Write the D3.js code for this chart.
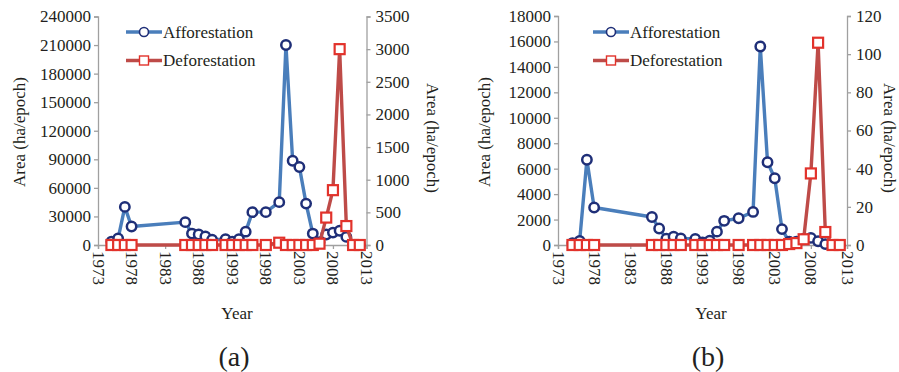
<!DOCTYPE html>
<html>
<head>
<meta charset="utf-8">
<script src="https://cdn.jsdelivr.net/npm/d3@7"></script>
<style>
  body { margin: 0; background: #fff; }
  svg, svg text { font-family: "Liberation Serif", "Times New Roman", Times, "DejaVu Serif", serif; }
</style>
</head>
<body>
<div id="chart"></div>
<script>
// 観測年（両パネル共通）
const years = [1975, 1976, 1977, 1978, 1986, 1987, 1988, 1989, 1990, 1992, 1993, 1994, 1995, 1996,
  1998, 2000, 2001, 2002, 2003, 2004, 2005, 2006, 2007, 2008, 2009, 2010, 2011, 2012];

// (a) 植林・伐採面積 (ha/epoch)
const afforestA = [3500, 7000, 40000, 19500, 24000, 12000, 11000, 9000, 5500, 6000, 3500, 6000, 14000, 34500,
  34500, 45000, 210000, 88500, 82000, 43500, 12000, 3000, 11000, 13000, 15000, 8500, 0, 0];
const deforestA = [0, 0, 0, 0, 0, 0, 0, 0, 0, 0, 0, 0, 0, 0,
  0, 35, 0, 0, 0, 0, 0, 20, 420, 840, 3000, 290, 0, 0];

// (b)
const afforestB = [150, 320, 6700, 2950, 2200, 1300, 500, 650, 520, 480, 200, 340, 1050, 1900,
  2100, 2600, 15600, 6500, 5250, 1250, 250, 250, 470, 560, 300, 70, 0, 0];
const deforestB = [0, 0, 0, 0, 0, 0, 0, 0, 0, 0, 0, 0, 0, 0,
  0, 0, 0, 0, 0, 0, 0.5, 1, 3, 37.5, 106, 6.8, 0, 0];

// 目盛り
const xTicks = [1973, 1978, 1983, 1988, 1993, 1998, 2003, 2008, 2013];
const leftTicksA = [0, 30000, 60000, 90000, 120000, 150000, 180000, 210000, 240000];
const rightTicksA = [0, 500, 1000, 1500, 2000, 2500, 3000, 3500];
const leftTicksB = [0, 2000, 4000, 6000, 8000, 10000, 12000, 14000, 16000, 18000];
const rightTicksB = [0, 20, 40, 60, 80, 100, 120];

const seriesNames = ["Afforestation", "Deforestation"];
const panelLabels = ["(a)", "(b)"];

const W = 899, H = 372;
const svg = d3.select("#chart").append("svg").attr("width", W).attr("height", H);

const axisColor = "#a0a0a0";
const textColor = "#231f20";
const blueLine = "#4a7ebb", blueMark = "#1f2f78";
const redLine = "#be4b48", redMark = "#e2322b";
const fs = 17;

function drawPanel(p) {
  const g = svg.append("g");
  const x = d3.scaleLinear().domain([1973, 2013]).range([p.x0, p.x1]);
  const yL = d3.scaleLinear().domain([p.leftTicks[0], p.leftTicks[p.leftTicks.length - 1]]).range([p.yb, p.yt]);
  const yR = d3.scaleLinear().domain([p.rightTicks[0], p.rightTicks[p.rightTicks.length - 1]]).range([p.yb, p.yt]);

  // 左軸
  const la = g.append("g").attr("transform", `translate(${p.x0},0)`)
    .call(d3.axisLeft(yL).tickValues(p.leftTicks).tickSize(4).tickPadding(3).tickFormat(d3.format("d")));
  // 右軸
  const ra = g.append("g").attr("transform", `translate(${p.x1},0)`)
    .call(d3.axisRight(yR).tickValues(p.rightTicks).tickSize(4).tickPadding(5).tickFormat(d3.format("d")));
  // 下軸
  const ba = g.append("g").attr("transform", `translate(0,${p.yb})`)
    .call(d3.axisBottom(x).tickValues(xTicks).tickSize(4).tickFormat(d3.format("d")));
  ba.selectAll("text")
    .attr("transform", "rotate(90)")
    .attr("x", 6).attr("y", 0).attr("dy", "0.35em")
    .attr("text-anchor", "start");

  [la, ra, ba].forEach(a => {
    a.attr("font-family", null).attr("font-size", null);
    a.select(".domain").attr("stroke", axisColor).attr("stroke-width", 1.3);
    a.selectAll(".tick line").attr("stroke", axisColor).attr("stroke-width", 1.3);
    a.selectAll("text").attr("fill", textColor).style("font-size", fs + "px");
  });

  // 軸タイトル
  g.append("text")
    .attr("transform", `translate(${p.titleL},${p.titleLy}) rotate(-90)`)
    .attr("text-anchor", "middle").attr("dy", "0.35em")
    .attr("fill", textColor).style("font-size", fs + "px")
    .text("Area (ha/epoch)");
  g.append("text")
    .attr("transform", `translate(${p.titleR},${p.titleRy}) rotate(90)`)
    .attr("text-anchor", "middle").attr("dy", "0.35em")
    .attr("fill", textColor).style("font-size", fs + "px")
    .text("Area (ha/epoch)");
  g.append("text")
    .attr("x", p.xMid).attr("y", 313).attr("dy", "0.35em")
    .attr("text-anchor", "middle").attr("fill", textColor).style("font-size", fs + "px")
    .text("Year");
  g.append("text")
    .attr("x", p.xMid - 3).attr("y", 356).attr("dy", "0.35em")
    .attr("text-anchor", "middle").attr("fill", textColor).style("font-size", "28px")
    .text(p.label);

  const blue = years.map((yr, i) => [yr, p.aff[i]]);
  const red = years.map((yr, i) => [yr, p.def[i]]);

  // 植林（左軸）
  g.append("path")
    .attr("d", d3.line().x(d => x(d[0])).y(d => yL(d[1]))(blue))
    .attr("fill", "none").attr("stroke", blueLine).attr("stroke-width", 3.4)
    .attr("stroke-linejoin", "round");
  g.selectAll(".c").data(blue).enter().append("circle")
    .attr("cx", d => x(d[0])).attr("cy", d => yL(d[1])).attr("r", 4.7)
    .attr("fill", "#fff").attr("stroke", blueMark).attr("stroke-width", 2.5);

  // 伐採（右軸）
  g.append("path")
    .attr("d", d3.line().x(d => x(d[0])).y(d => yR(d[1]))(red))
    .attr("fill", "none").attr("stroke", redLine).attr("stroke-width", 3.4)
    .attr("stroke-linejoin", "round");
  g.selectAll(".s").data(red).enter().append("rect")
    .attr("x", d => x(d[0]) - 5).attr("y", d => yR(d[1]) - 5)
    .attr("width", 10).attr("height", 10)
    .attr("fill", "#fff").attr("stroke", redMark).attr("stroke-width", 2.2);

  // 凡例
  const lg = g.append("g");
  [0, 1].forEach(i => {
    const ly = 32 + i * 28.5;
    lg.append("line").attr("x1", p.legX).attr("x2", p.legX + 36).attr("y1", ly).attr("y2", ly)
      .attr("stroke", i === 0 ? blueLine : redLine).attr("stroke-width", 3.4);
    if (i === 0) {
      lg.append("circle").attr("cx", p.legX + 18).attr("cy", ly).attr("r", 4.5)
        .attr("fill", "#fff").attr("stroke", blueMark).attr("stroke-width", 1.6);
    } else {
      lg.append("rect").attr("x", p.legX + 13.5).attr("y", ly - 4.5).attr("width", 9).attr("height", 9)
        .attr("fill", "#fff").attr("stroke", redMark).attr("stroke-width", 1.4);
    }
    lg.append("text").attr("x", p.legX + 37).attr("y", ly).attr("dy", "0.35em")
      .attr("fill", textColor).style("font-size", fs + "px").text(seriesNames[i]);
  });
}

drawPanel({
  x0: 98, x1: 366.5, yb: 245, yt: 16.5,
  leftTicks: leftTicksA, rightTicks: rightTicksA,
  aff: afforestA, def: deforestA,
  titleL: 19, titleLy: 132, titleR: 433, titleRy: 138,
  xMid: 237, legX: 126, label: panelLabels[0]
});
drawPanel({
  x0: 558, x1: 847, yb: 245, yt: 16,
  leftTicks: leftTicksB, rightTicks: rightTicksB,
  aff: afforestB, def: deforestB,
  titleL: 484, titleLy: 132, titleR: 890, titleRy: 138,
  xMid: 711, legX: 593, label: panelLabels[1]
});
</script>
</body>
</html>
